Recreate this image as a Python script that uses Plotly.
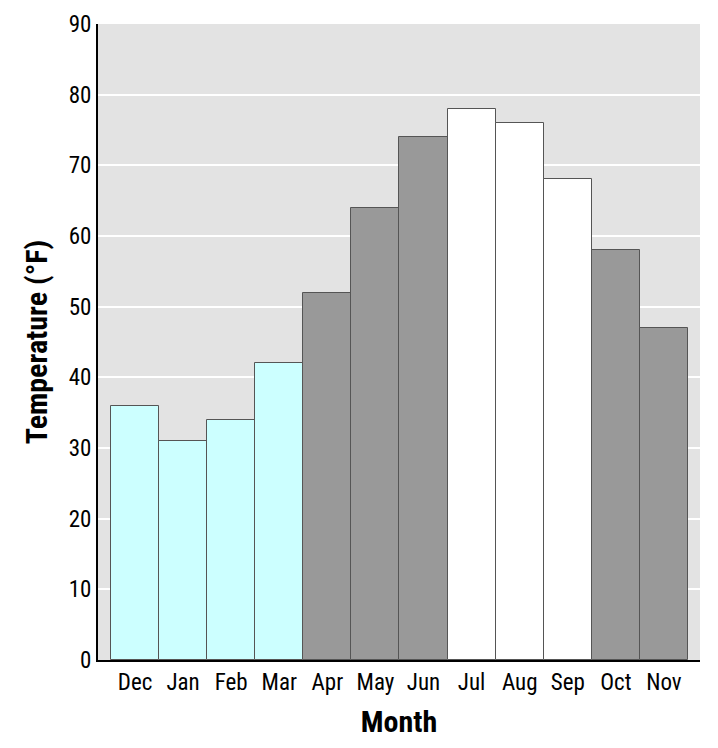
import plotly.graph_objects as go

months = ["Dec", "Jan", "Feb", "Mar", "Apr", "May", "Jun", "Jul", "Aug", "Sep", "Oct", "Nov"]
temps = [36, 31, 34, 42, 52, 64, 74, 78, 76, 68, 58, 47]
seasons = ["winter"] * 4 + ["mid"] * 3 + ["summer"] * 3 + ["mid"] * 2
season_colors = {"winter": "#ccffff", "mid": "#999999", "summer": "#ffffff"}

FONT = "Liberation Sans Narrow, Roboto Condensed, Arial Narrow, sans-serif"

fig = go.Figure(go.Bar(
    x=months, y=temps,
    marker=dict(color=[season_colors[s] for s in seasons],
                line=dict(color="#555555", width=1)),
    showlegend=False,
))

# page body adds ~8px offset, so margins are trimmed to land where the reference is
fig.update_layout(
    width=710, height=740,
    paper_bgcolor="white", plot_bgcolor="#e3e3e3",
    bargap=0,
    margin=dict(l=90, r=18, t=16, b=88, autoexpand=False),
    font=dict(family=FONT, size=20, color="black"),
)
fig.update_xaxes(
    range=[-0.77, 11.75], showgrid=False, automargin=False,
    showline=True, linecolor="black", linewidth=2,
    ticks="", tickfont=dict(size=23),
    title=dict(text="<b>Month</b>", font=dict(size=30), standoff=16),
)
fig.update_yaxes(
    range=[0, 90], dtick=10, gridcolor="white", gridwidth=1.5, automargin=False,
    showline=True, linecolor="black", linewidth=2,
    ticks="", zeroline=False, tickfont=dict(size=23),
    title=dict(text="<b>Temperature (°F)</b>", font=dict(size=30), standoff=12),
)

fig.write_html("out.html")
